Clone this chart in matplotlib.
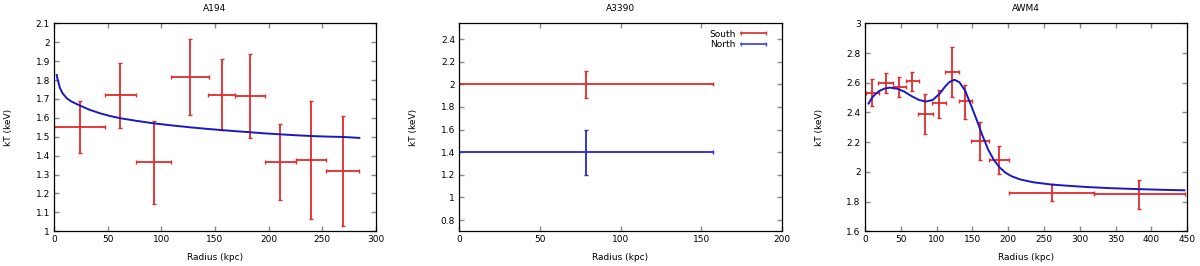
import numpy as np
import matplotlib
matplotlib.use("Agg")
import matplotlib.pyplot as plt
from matplotlib.lines import Line2D
from matplotlib.ticker import FuncFormatter, MultipleLocator

plt.rcParams["font.family"] = ["DejaVu Sans"]

RED = "#e42a2a"
BLUE = "#1818c4"
BLUE2 = "#2626d8"
TICK = "#888888"
FS = 6.5

# --- A194 ---
a194_x = np.array([24.2, 61.8, 92.9, 126.7, 156.5, 182.6, 210.6, 239.4, 269.0])
a194_xlo = np.array([0.0, 47.5, 76.4, 108.7, 143.8, 168.3, 196.6, 225.2, 253.4])
a194_xhi = np.array([47.5, 76.4, 109.3, 144.1, 168.6, 196.9, 225.2, 253.4, 284.5])
a194_y = np.array([1.553, 1.72, 1.365, 1.816, 1.723, 1.714, 1.365, 1.376, 1.321])
a194_ylo = np.array([1.413, 1.548, 1.146, 1.615, 1.536, 1.495, 1.166, 1.065, 1.030])
a194_yhi = np.array([1.691, 1.889, 1.585, 2.019, 1.913, 1.936, 1.568, 1.689, 1.612])
a194_fit_x = [2.5, 3.5, 5.6, 8, 11.8, 16, 24.2, 33, 42.9, 52, 61.8, 77, 92.9, 110,
              126.7, 140, 154.7, 168, 182.6, 196, 210.6, 225, 239.4, 254, 269, 284.5]
a194_fit_y = [1.827, 1.80, 1.757, 1.73, 1.704, 1.687, 1.665, 1.643, 1.624, 1.61, 1.598,
              1.584, 1.571, 1.56, 1.55, 1.543, 1.536, 1.530, 1.524, 1.518, 1.513, 1.508,
              1.504, 1.501, 1.499, 1.494]

# --- A3390 ---
a3390_x = [78.8]
a3390_xlo = [0.0]
a3390_xhi = [157.6]
south_y = [2.0]
south_ylo = [1.879]
south_yhi = [2.121]
north_y = [1.4]
north_ylo = [1.2]
north_yhi = [1.6]

# --- AWM4 ---
awm4_x = np.array([9.3, 29.0, 47.5, 65.2, 84.2, 103.3, 121.0, 139.6, 160.5, 186.6, 260.6, 383.0])
awm4_xlo = np.array([0.8, 18.6, 38.6, 56.8, 74.6, 93.1, 111.2, 130.8, 148.4, 172.6, 201.0, 320.2])
awm4_xhi = np.array([19.5, 38.6, 56.8, 75.8, 94.5, 112.7, 131.2, 149.8, 173.1, 201.5, 320.2, 446.7])
awm4_y = np.array([2.533, 2.60, 2.573, 2.611, 2.392, 2.461, 2.67, 2.475, 2.21, 2.08, 1.86, 1.851])
awm4_ylo = np.array([2.443, 2.533, 2.502, 2.544, 2.255, 2.365, 2.506, 2.354, 2.08, 1.984, 1.804, 1.752])
awm4_yhi = np.array([2.623, 2.663, 2.636, 2.674, 2.524, 2.551, 2.838, 2.587, 2.338, 2.177, 1.916, 1.945])
awm4_fit_x = [5, 10, 15, 20, 27, 35, 45, 55, 65, 75, 85, 95, 105, 112, 118, 125, 132,
              140, 148, 156, 164, 172, 180, 188, 196, 205, 216, 235, 260, 282, 310,
              340, 375, 410, 446]
awm4_fit_y = [2.46, 2.50, 2.525, 2.545, 2.56, 2.567, 2.56, 2.54, 2.51, 2.485, 2.473,
              2.485, 2.53, 2.575, 2.605, 2.62, 2.603, 2.545, 2.45, 2.35, 2.245, 2.15,
              2.08, 2.03, 1.995, 1.97, 1.95, 1.93, 1.915, 1.907, 1.898, 1.891, 1.885,
              1.88, 1.876]


def err(c, lo, hi):
    c, lo, hi = np.asarray(c), np.asarray(lo), np.asarray(hi)
    return [c - lo, hi - c]


def style(ax, title, xlim, ylim, xstep, ystep):
    ax.set_xlim(*xlim)
    ax.set_ylim(*ylim)
    ax.xaxis.set_major_locator(MultipleLocator(xstep))
    ax.yaxis.set_major_locator(MultipleLocator(ystep))
    fmt = FuncFormatter(lambda v, p: f"{round(v, 6):g}")
    ax.xaxis.set_major_formatter(fmt)
    ax.yaxis.set_major_formatter(fmt)
    ax.tick_params(which="both", direction="in", top=True, right=True, length=3.5,
                   width=1, color=TICK, labelsize=FS, pad=3)
    for s in ax.spines.values():
        s.set_linewidth(0.9)
    ax.set_title(title, fontsize=FS, pad=9)
    ax.set_xlabel("Radius (kpc)", fontsize=FS)
    ax.set_ylabel("kT (keV)", fontsize=FS)
    ax.xaxis.set_label_coords(0.5, -0.105)
    ax.yaxis.set_label_coords(-0.128, 0.5)


fig = plt.figure(figsize=(12, 2.66), dpi=100)
ax1 = fig.add_axes([0.045, 0.1304, 0.2683, 0.782])
ax2 = fig.add_axes([0.3828, 0.1304, 0.2686, 0.782])
ax3 = fig.add_axes([0.7208, 0.1304, 0.2686, 0.782])

eb = dict(fmt="none", elinewidth=1.3, capsize=1.3, capthick=1.0)

# 1. A194
ax1.errorbar(a194_x, a194_y, xerr=err(a194_x, a194_xlo, a194_xhi),
             yerr=err(a194_y, a194_ylo, a194_yhi), ecolor=RED, **eb)
ax1.plot(a194_fit_x, a194_fit_y, color=BLUE, lw=1.4)
style(ax1, "A194", (0, 300), (1, 2.1), 50, 0.1)

# 2. A3390
ax2.errorbar(a3390_x, south_y, xerr=err(a3390_x, a3390_xlo, a3390_xhi),
             yerr=err(south_y, south_ylo, south_yhi), ecolor=RED, **eb)
ax2.errorbar(a3390_x, north_y, xerr=err(a3390_x, a3390_xlo, a3390_xhi),
             yerr=err(north_y, north_ylo, north_yhi), ecolor=BLUE2, **eb)
style(ax2, "A3390", (0, 200), (0.7, 2.54), 50, 0.2)
handles = [Line2D([], [], color="#d83a3a", lw=1.3, marker="|", markersize=3,
                  markeredgewidth=1),
           Line2D([], [], color="#4a4ae0", lw=1.3, marker="|", markersize=3,
                  markeredgewidth=1)]
ax2.legend(handles, ["South", "North"], loc="upper right", frameon=False,
           fontsize=FS, markerfirst=False, numpoints=2, handlelength=3.4,
           handletextpad=0.3, labelspacing=0.2, borderaxespad=0.3,
           bbox_to_anchor=(0.98, 1.0))

# 3. AWM4
ax3.errorbar(awm4_x, awm4_y, xerr=err(awm4_x, awm4_xlo, awm4_xhi),
             yerr=err(awm4_y, awm4_ylo, awm4_yhi), ecolor=RED, **eb)
ax3.plot(awm4_fit_x, awm4_fit_y, color=BLUE, lw=1.4)
style(ax3, "AWM4", (0, 450), (1.6, 3.0), 50, 0.2)

fig.savefig("out.png", dpi=100)
